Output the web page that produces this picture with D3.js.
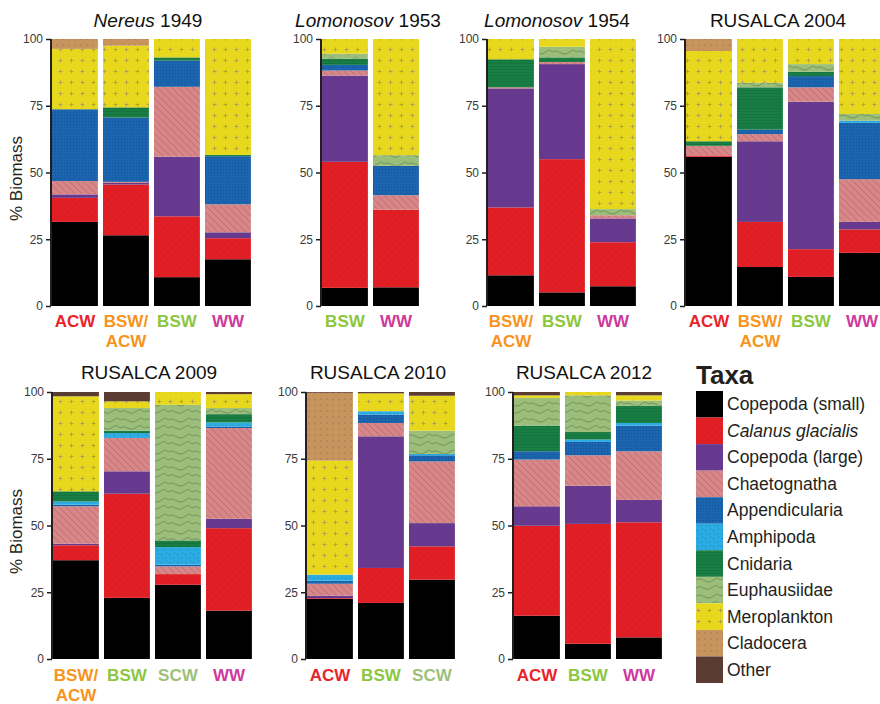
<!DOCTYPE html>
<html><head><meta charset="utf-8">
<script src="https://cdn.jsdelivr.net/npm/d3@7"></script>
<style>html,body{margin:0;padding:0;background:#fff;}svg{display:block;font-family:"Liberation Sans",Arial,sans-serif;}</style>
</head><body>
<svg id="chart" width="880" height="704"></svg>
<script>
// ---- Data ----
const taxa = ["Copepoda (small)", "Calanus glacialis", "Copepoda (large)", "Chaetognatha", "Appendicularia", "Amphipoda", "Cnidaria", "Euphausiidae", "Meroplankton", "Cladocera", "Other"];
const yTicks = [0, 25, 50, 75, 100];

const nereus1949Cats = ["ACW", "BSW/ACW", "BSW", "WW"];
const nereus1949 = [
  [31.5, 9, 1.3, 5, 26.9, 0, 0, 0, 22.6, 3.7, 0],
  [26.5, 19, 0.6, 0.4, 24.1, 0, 3.8, 0, 23.1, 2.5, 0],
  [10.8, 22.8, 22.3, 26.2, 9.8, 0, 1.2, 0, 6.9, 0, 0],
  [17.5, 7.9, 2.2, 10.5, 18, 0, 0.5, 0, 43.4, 0, 0]
];
const lomonosov1953Cats = ["BSW", "WW"];
const lomonosov1953 = [
  [6.8, 47.2, 32.3, 1.9, 2.1, 0, 2.3, 1.9, 5.5, 0, 0],
  [7, 29.1, 0, 5.4, 11, 0, 0, 4, 43.5, 0, 0]
];
const lomonosov1954Cats = ["BSW/ACW", "BSW", "WW"];
const lomonosov1954 = [
  [11.5, 25.4, 44.6, 0.4, 0, 0, 10.5, 0, 7.6, 0, 0],
  [5.1, 49.9, 35.6, 0.8, 0, 0, 1.7, 4, 2.9, 0, 0],
  [7.4, 16.5, 8.9, 1.2, 0, 0, 0, 2.3, 63.7, 0, 0]
];
const rusalca2004Cats = ["ACW", "BSW/ACW", "BSW", "WW"];
const rusalca2004 = [
  [55.9, 0.5, 0, 3.6, 0, 0, 1.7, 0, 33.8, 4.5, 0],
  [14.6, 16.9, 30.2, 2.7, 1.7, 0, 15.8, 1.7, 16.4, 0, 0],
  [10.9, 10.4, 55.2, 5.4, 4.2, 0, 1.6, 2.9, 9.4, 0, 0],
  [19.9, 8.8, 2.8, 16, 21.1, 0.8, 0, 2.5, 28.1, 0, 0]
];
const rusalca2009Cats = ["BSW/ACW", "BSW", "SCW", "WW"];
const rusalca2009 = [
  [37, 5.6, 0.6, 14, 0.6, 1.2, 3.8, 0, 35.6, 0, 1.6],
  [22.9, 39, 8.4, 12.5, 0, 1.8, 0.9, 8.5, 2.5, 0, 3.5],
  [27.8, 4, 0, 2.9, 0.6, 6.6, 2.5, 50.8, 4.8, 0, 0],
  [18.1, 30.9, 3.5, 34, 0.5, 1.6, 3.1, 2.3, 5.2, 0, 0.8]
];
const rusalca2010Cats = ["ACW", "BSW", "SCW"];
const rusalca2010 = [
  [22.5, 0.3, 0.9, 4.5, 1.1, 2.3, 0, 0, 42.7, 25.4, 0.3],
  [21, 13.1, 49.3, 5, 3.1, 1.3, 0, 0, 6.7, 0, 0.5],
  [29.7, 12.5, 8.7, 23.1, 2.3, 0.5, 0, 8.7, 13.1, 0, 1.4]
];
const rusalca2012Cats = ["ACW", "BSW", "WW"];
const rusalca2012 = [
  [16.2, 33.7, 7.3, 17.5, 3.1, 0, 9.6, 10.4, 0.95, 0, 1.25],
  [5.7, 44.9, 14.3, 11.4, 5, 0.9, 2.8, 13.75, 1.25, 0, 0],
  [8.1, 43.1, 8.4, 18.2, 9.6, 1, 6.5, 1.9, 1.95, 0, 1.25]
];

// ---- Styles ----
const taxaColors = ["#000000", "#e31e24", "#6a3c91", "#d88788", "#1b64ae", "#2aade3", "#187e44", "#9cbe7b", "#e8d81d", "#c8945e", "#5a3c33"];
const massColors = {"ACW": "#e8242b", "BSW/ACW": "#f7941d", "BSW": "#8cc63f", "WW": "#cc3a9b", "SCW": "#9dc07a"};

const panels = [
  {title: ["Nereus", " 1949"], data: nereus1949, cats: nereus1949Cats, x0: 52, row: 0, titleX: 148, showY: true},
  {title: ["Lomonosov", " 1953"], data: lomonosov1953, cats: lomonosov1953Cats, x0: 322, row: 0, titleX: 368},
  {title: ["Lomonosov", " 1954"], data: lomonosov1954, cats: lomonosov1954Cats, x0: 488, row: 0, titleX: 557},
  {title: ["", "RUSALCA 2004"], data: rusalca2004, cats: rusalca2004Cats, x0: 686, row: 0, titleX: 778},
  {title: ["", "RUSALCA 2009"], data: rusalca2009, cats: rusalca2009Cats, x0: 53, row: 1, titleX: 149, showY: true},
  {title: ["", "RUSALCA 2010"], data: rusalca2010, cats: rusalca2010Cats, x0: 307, row: 1, titleX: 378},
  {title: ["", "RUSALCA 2012"], data: rusalca2012, cats: rusalca2012Cats, x0: 514, row: 1, titleX: 584}
];
const rows = [{top: 39, bottom: 306, titleY: 27, labY: 327}, {top: 392, bottom: 659, titleY: 379, labY: 681}];

const svg = d3.select("#chart");
const defs = svg.append("defs");

// ---- Patterns ----
function pat(id, w, h, base, draw) {
  const p = defs.append("pattern").attr("id", id).attr("patternUnits", "userSpaceOnUse").attr("width", w).attr("height", h);
  p.append("rect").attr("width", w).attr("height", h).attr("fill", base);
  draw(p);
}
pat("p0", 4, 4, taxaColors[0], p => {});
pat("p1", 7, 7, taxaColors[1], p => p.append("path").attr("d", "M0,7L7,0M-1,1L1,-1M6,8L8,6").attr("stroke", "rgba(140,40,40,0.45)").attr("stroke-width", 0.6));
pat("p2", 4, 4, taxaColors[2], p => p.append("path").attr("d", "M0,4L4,0M0,0L4,4").attr("stroke", "rgba(80,40,120,0.5)").attr("stroke-width", 0.5));
pat("p3", 7, 7, taxaColors[3], p => p.append("path").attr("d", "M0,0L7,7M-1,6L1,8M6,-1L8,1").attr("stroke", "rgba(170,90,95,0.8)").attr("stroke-width", 0.7));
pat("p4", 3, 3, taxaColors[4], p => p.append("circle").attr("cx", 1.5).attr("cy", 1.5).attr("r", 0.6).attr("fill", "rgba(20,70,140,0.8)"));
pat("p5", 8, 8, taxaColors[5], p => p.append("path").attr("d", "M1,2l2,1M5,5l1,2M6,1l1,1M2,6l1,-1").attr("stroke", "rgba(40,80,150,0.7)").attr("stroke-width", 0.6));
pat("p6", 4, 3, taxaColors[6], p => p.append("path").attr("d", "M0,0.5H4").attr("stroke", "rgba(20,110,60,0.9)").attr("stroke-width", 0.8));
pat("p7", 24, 16, taxaColors[7], p => p.append("path").attr("d", "M0,4 C6,0 10,9 16,5 S22,2 24,4 M0,12 C5,8 9,16 15,12 S21,10 24,12").attr("fill", "none").attr("stroke", "rgba(70,100,60,0.7)").attr("stroke-width", 0.7));
pat("p8", 11, 11, taxaColors[8], p => p.append("path").attr("d", "M5.5,3.5V7.5M3.5,5.5H7.5").attr("stroke", "rgba(150,140,90,0.9)").attr("stroke-width", 0.7));
pat("p9", 6, 6, taxaColors[9], p => p.append("circle").attr("cx", 3).attr("cy", 3).attr("r", 0.6).attr("fill", "rgba(110,90,80,0.9)"));
pat("p10", 4, 4, taxaColors[10], p => {});

const stack = d3.stack().keys(d3.range(taxa.length));

panels.forEach(pn => {
  const r = rows[pn.row];
  const n = pn.cats.length;
  const x = d3.scaleBand().domain(pn.cats).range([pn.x0, pn.x0 + n * 51 - 5.1]).paddingInner(0.1).paddingOuter(0);
  const y = d3.scaleLinear().domain([0, 100]).range([r.bottom, r.top]);
  const axisX = pn.x0 - 1;
  const g = svg.append("g");

  const rowsData = pn.data.map((v, i) => { const o = {cat: pn.cats[i]}; v.forEach((d, k) => o[k] = d); return o; });
  const series = stack(rowsData);
  series.forEach((s, k) => {
    g.selectAll(null).data(s.filter(d => d[1] - d[0] > 0)).join("rect")
      .attr("x", d => x(d.data.cat))
      .attr("width", x.bandwidth())
      .attr("y", d => y(d[1]))
      .attr("height", d => y(d[0]) - y(d[1]))
      .attr("fill", `url(#p${k})`);
  });

  // y axis
  const ax = g.append("g").attr("transform", `translate(${axisX},0)`)
    .call(d3.axisLeft(y).tickValues(yTicks).tickSize(5).tickPadding(3));
  ax.select(".domain").attr("stroke", "#231f20").attr("stroke-width", 2).attr("d", `M0,${r.bottom}V${r.top}`);
  ax.selectAll(".tick line").attr("stroke", "#231f20").attr("stroke-width", 1.5);
  ax.selectAll(".tick text").attr("font-size", 12).attr("fill", "#3a3a3a").attr("font-family", "Liberation Sans, Arial, sans-serif");

  // title
  const t = g.append("text").attr("x", pn.titleX).attr("y", r.titleY).attr("text-anchor", "middle").attr("font-size", 19).attr("fill", "#111");
  if (pn.title[0]) t.append("tspan").attr("font-style", "italic").text(pn.title[0]);
  t.append("tspan").text(pn.title[1]);

  // category labels
  pn.cats.forEach(c => {
    const cx = x(c) + x.bandwidth() / 2;
    const parts = c.includes("/") ? [c.split("/")[0] + "/", c.split("/")[1]] : [c];
    parts.forEach((p, i) => {
      g.append("text").attr("x", cx).attr("y", r.labY + i * 20).attr("text-anchor", "middle")
        .attr("font-size", 17).attr("font-weight", "bold").attr("fill", massColors[c]).text(p);
    });
  });

  if (pn.showY) {
    g.append("text").attr("transform", `translate(22,${(r.top + r.bottom) / 2 + 6}) rotate(-90)`)
      .attr("text-anchor", "middle").attr("font-size", 17).attr("fill", "#231f20").text("% Biomass");
  }
});

// ---- Legend ----
const lg = svg.append("g");
lg.append("text").attr("x", 696).attr("y", 384).attr("font-size", 26).attr("font-weight", "bold").attr("fill", "#231f20").text("Taxa");
const ly = d3.scaleBand().domain(taxa).range([391, 683]);
lg.selectAll("rect").data(taxa).join("rect")
  .attr("x", 696).attr("y", d => ly(d)).attr("width", 27).attr("height", ly.bandwidth())
  .attr("fill", (d, i) => `url(#p${i})`);
lg.selectAll("text.lab").data(taxa).join("text").attr("class", "lab")
  .attr("x", 727).attr("y", d => ly(d) + ly.bandwidth() / 2 + 6)
  .attr("font-size", 17.5).attr("fill", "#231f20")
  .attr("font-style", d => d === "Calanus glacialis" ? "italic" : null)
  .text(d => d);
</script>
</body></html>
